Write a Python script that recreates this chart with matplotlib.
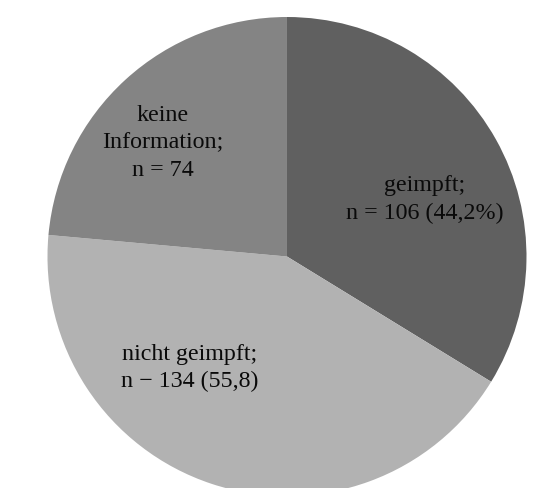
import matplotlib
matplotlib.use("Agg")
import matplotlib.pyplot as plt

# Vaccination status counts
categories = ["geimpft", "nicht geimpft", "keine Information"]
counts = [106, 134, 74]
label_texts = [
    "geimpft;\nn = 106 (44,2%)",
    "nicht geimpft;\nn \u2212 134 (55,8)",
    "keine\nInformation;\nn = 74",
]
colors = ["#606060", "#b2b2b2", "#848484"]
label_pos = [(0.576, 0.242), (-0.405, -0.460), (-0.518, 0.478)]

fig = plt.figure(figsize=(5.49, 4.89), dpi=100)
ax = fig.add_axes([0.0865, -0.0164, 0.8725, 0.9796])
ax.pie(counts, colors=colors, startangle=90, counterclock=False,
       radius=1.0, center=(0, 0), wedgeprops=dict(linewidth=0))
ax.set_xlim(-1, 1)
ax.set_ylim(-1, 1)
ax.set_aspect("equal")
ax.axis("off")

for txt, (x, y) in zip(label_texts, label_pos):
    ax.text(x, y, txt, ha="center", va="center", fontsize=17.3,
            family="Liberation Serif", color="#0a0a0a", linespacing=1.38)

fig.savefig("out.png", dpi=100)
